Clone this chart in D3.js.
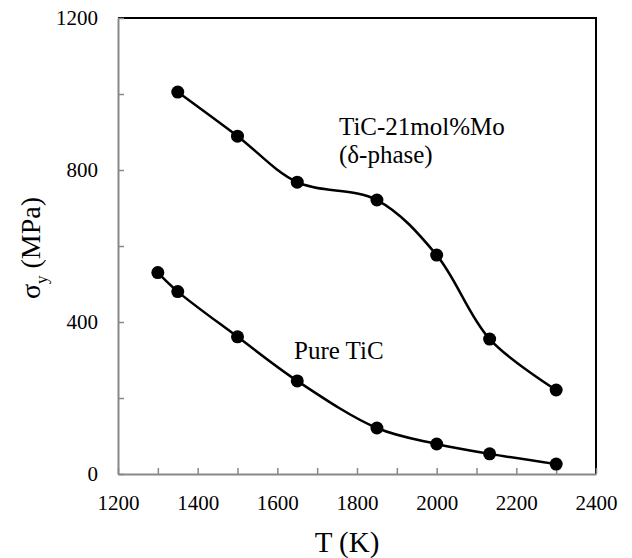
<!DOCTYPE html>
<html>
<head lang="en">
  <title>Yield stress vs T</title>
  <script src="https://d3js.org/d3.v7.min.js" charset="utf-8"></script>
  <style>
    body { margin: 0; background: #fff; }
  </style>
</head>
<body>
  <script>

    // data
    var tempMo  = [1350, 1500, 1650, 1850, 2000, 2133, 2300];
    var sigmaMo = [1005, 889, 768, 721, 576, 355, 221];

    var tempTiC  = [1300, 1350, 1500, 1650, 1850, 2000, 2133, 2300];
    var sigmaTiC = [530, 480, 361, 245, 121, 79, 53, 26];

    var xTicks = [1200, 1400, 1600, 1800, 2000, 2200, 2400];
    var yTicks = [0, 400, 800, 1200];

    var serif = "'Liberation Serif', 'Times New Roman', Tinos, 'DejaVu Serif', serif";

    var width = 632;
    var height = 558;
    var margin = {left: 118, right: 36, top: 18, bottom: 84};

    var svg = d3.select("body")
      .append("svg")
      .attr("width", width)
      .attr("height", height)
      .style("font-family", serif);

    var x = d3.scaleLinear()
      .domain([1200, 2400])
      .range([margin.left, width - margin.right]);

    var y = d3.scaleLinear()
      .domain([0, 1200])
      .range([height - margin.bottom, margin.top]);

    // top and right border (black)
    svg.append("path")
      .attr("d", "M" + x(1200) + "," + y(1200) + "H" + x(2400) + "V" + y(0))
      .attr("fill", "none")
      .attr("stroke", "#000")
      .attr("stroke-width", 2);

    // axes, ticks inside
    var xAxis = svg.append("g")
      .attr("transform", "translate(0," + y(0) + ")")
      .call(d3.axisBottom(x)
        .tickValues(d3.range(1200, 2401, 100))
        .tickSizeInner(-6)
        .tickSizeOuter(0)
        .tickFormat(function(d) { return xTicks.indexOf(d) >= 0 ? d : ""; }));
    xAxis.attr("font-family", null);
    xAxis.select(".domain").attr("stroke", "#888").attr("stroke-width", 2);
    xAxis.selectAll(".tick line").attr("stroke", "#888").attr("stroke-width", 1.5);
    xAxis.selectAll(".tick text")
      .attr("y", 21)
      .attr("dy", "0.71em")
      .attr("fill", "#000")
      .style("font-family", serif)
      .style("font-size", "21px");

    var yAxis = svg.append("g")
      .attr("transform", "translate(" + x(1200) + ",0)")
      .call(d3.axisLeft(y)
        .tickValues(d3.range(0, 1201, 200))
        .tickSizeInner(-6)
        .tickSizeOuter(0)
        .tickFormat(function(d) { return yTicks.indexOf(d) >= 0 ? d : ""; }));
    yAxis.attr("font-family", null);
    yAxis.select(".domain").attr("stroke", "#888").attr("stroke-width", 2);
    yAxis.selectAll(".tick line").attr("stroke", "#888").attr("stroke-width", 1.5);
    yAxis.selectAll(".tick text")
      .attr("x", -20)
      .attr("fill", "#000")
      .style("font-family", serif)
      .style("font-size", "21px");

    // series
    var line = d3.line()
      .x(function(d) { return x(d[0]); })
      .y(function(d) { return y(d[1]); })
      .curve(d3.curveCatmullRom.alpha(0.5));

    [[tempMo, sigmaMo], [tempTiC, sigmaTiC]].forEach(function(s) {
      var pts = d3.zip(s[0], s[1]);
      svg.append("path")
        .datum(pts)
        .attr("d", line)
        .attr("fill", "none")
        .attr("stroke", "#000")
        .attr("stroke-width", 2.5);
      svg.append("g")
        .selectAll("circle")
        .data(pts)
        .enter().append("circle")
          .attr("cx", function(d) { return x(d[0]); })
          .attr("cy", function(d) { return y(d[1]); })
          .attr("r", 6.5)
          .attr("fill", "#000");
    });

    // labels
    svg.append("text").attr("x", 339).attr("y", 135)
      .style("font-size", "25px").text("TiC-21mol%Mo");
    svg.append("text").attr("x", 339).attr("y", 163)
      .style("font-size", "25px").text("(δ-phase)");
    svg.append("text").attr("x", 294).attr("y", 359)
      .style("font-size", "25px").text("Pure TiC");

    // axis titles
    svg.append("text")
      .attr("x", 347).attr("y", 552)
      .attr("text-anchor", "middle")
      .style("font-size", "29px")
      .text("T (K)");

    var yt = svg.append("text")
      .attr("transform", "translate(40,248) rotate(-90)")
      .attr("text-anchor", "middle")
      .style("font-size", "28px");
    yt.append("tspan").text("σ");
    yt.append("tspan").attr("dy", 7).style("font-size", "17px").text("y");
    yt.append("tspan").attr("dy", -7).text("\u00a0(MPa)");

  </script>
</body>
</html>
